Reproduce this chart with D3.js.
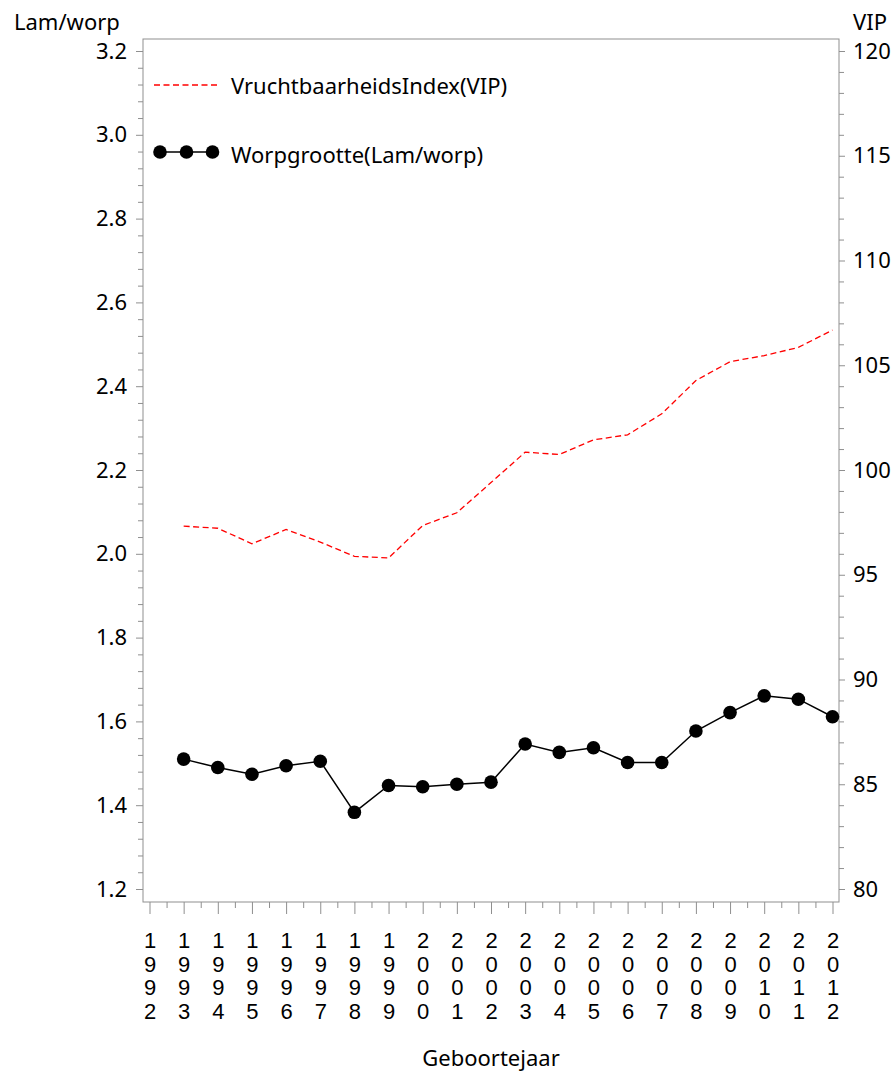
<!DOCTYPE html>
<html>
<head>
<meta charset="utf-8">
<script src="https://cdn.jsdelivr.net/npm/d3@7"></script>
<style>
  body { margin: 0; background: #fff; }
  svg { display: block; font-family: "Noto Sans", sans-serif; }
</style>
</head>
<body>
<div id="chart"></div>
<script>
const years = [1992, 1993, 1994, 1995, 1996, 1997, 1998, 1999, 2000, 2001, 2002,
               2003, 2004, 2005, 2006, 2007, 2008, 2009, 2010, 2011, 2012];

// data starts in 1993
const dataYears = [1993, 1994, 1995, 1996, 1997, 1998, 1999, 2000, 2001, 2002,
                   2003, 2004, 2005, 2006, 2007, 2008, 2009, 2010, 2011, 2012];
const worpgrootte = [1.510, 1.490, 1.474, 1.494, 1.505, 1.383, 1.447, 1.444, 1.450, 1.455,
                     1.546, 1.526, 1.537, 1.502, 1.502, 1.577, 1.621, 1.661, 1.653, 1.611];
const vip = [97.32, 97.22, 96.48, 97.16, 96.56, 95.88, 95.80, 97.35, 97.96, 99.40,
             100.85, 100.74, 101.44, 101.68, 102.68, 104.27, 105.17, 105.46, 105.85, 106.68];

const leftTicks = [1.2, 1.4, 1.6, 1.8, 2.0, 2.2, 2.4, 2.6, 2.8, 3.0, 3.2];
const rightTicks = [80, 85, 90, 95, 100, 105, 110, 115, 120];

const width = 894,
      height = 1073;
const frame = {left: 143, right: 839, top: 39, bottom: 902};
const fontSize = 22;
const axisColor = "#8f8f8f";

const x = d3.scaleLinear().domain([1992, 2012]).range([149.5, 832.5]);
const yL = d3.scaleLinear().domain([1.2, 3.2]).range([889, 51]);
const yR = d3.scaleLinear().domain([80, 120]).range([889, 51]);

const svg = d3.select("#chart").append("svg")
    .attr("width", width)
    .attr("height", height);

// minor tick values
const leftMinor = d3.range(1.2, 3.2001, 0.04).filter(v => !leftTicks.some(t => Math.abs(t - v) < 1e-6));
const rightMinor = d3.range(80, 120.001, 1).filter(v => v % 5 !== 0);
const xMinor = years.slice(0, -1).map(y => y + 0.5);

function styleAxis(g) {
  g.select(".domain").remove();
  g.selectAll(".tick line").attr("stroke", axisColor);
  g.selectAll(".tick text")
    .attr("fill", "#000")
    .style("font-size", fontSize + "px")
    .style("font-family", "'Noto Sans', sans-serif");
}

// left axis
svg.append("g")
    .attr("transform", `translate(${frame.left},0)`)
    .call(d3.axisLeft(yL).tickValues(leftMinor).tickSize(5).tickFormat(""))
    .call(styleAxis);
svg.append("g")
    .attr("transform", `translate(${frame.left},0)`)
    .call(d3.axisLeft(yL).tickValues(leftTicks).tickSize(7).tickPadding(9).tickFormat(d3.format(".1f")))
    .call(styleAxis);

// right axis
svg.append("g")
    .attr("transform", `translate(${frame.right},0)`)
    .call(d3.axisRight(yR).tickValues(rightMinor).tickSize(5).tickFormat(""))
    .call(styleAxis);
svg.append("g")
    .attr("transform", `translate(${frame.right},0)`)
    .call(d3.axisRight(yR).tickValues(rightTicks).tickSize(6).tickPadding(8).tickFormat(d3.format("d")))
    .call(styleAxis);

// bottom axis
svg.append("g")
    .attr("transform", `translate(0,${frame.bottom})`)
    .call(d3.axisBottom(x).tickValues(xMinor).tickSize(6).tickFormat(""))
    .call(styleAxis);
const xAxis = svg.append("g")
    .attr("transform", `translate(0,${frame.bottom})`)
    .call(d3.axisBottom(x).tickValues(years).tickSize(12).tickFormat(""))
    .call(styleAxis);

// vertical year labels, one digit per line
xAxis.selectAll(".tick").append("text")
    .attr("fill", "#000")
    .attr("text-anchor", "middle")
    .style("font-size", fontSize + "px")
    .selectAll("tspan")
    .data(d => String(d).split(""))
    .join("tspan")
      .attr("x", 0)
      .attr("y", (d, i) => 46 + i * 23.5)
      .text(d => d);

// frame
svg.append("rect")
    .attr("x", frame.left)
    .attr("y", frame.top)
    .attr("width", frame.right - frame.left)
    .attr("height", frame.bottom - frame.top)
    .attr("fill", "none")
    .attr("stroke", axisColor)
    .attr("stroke-width", 1);

// axis titles
svg.append("text")
    .attr("x", 14).attr("y", 30)
    .style("font-size", fontSize + "px")
    .text("Lam/worp");
svg.append("text")
    .attr("x", 853).attr("y", 30)
    .style("font-size", fontSize + "px")
    .text("VIP");
svg.append("text")
    .attr("x", (frame.left + frame.right) / 2).attr("y", 1066)
    .attr("text-anchor", "middle")
    .style("font-size", fontSize + "px")
    .text("Geboortejaar");

// VIP line (right axis)
const vipLine = d3.line()
    .x((d, i) => x(dataYears[i]))
    .y(d => yR(d));
svg.append("path")
    .datum(vip)
    .attr("d", vipLine)
    .attr("fill", "none")
    .attr("stroke", "#ff0000")
    .attr("stroke-width", 1.3)
    .attr("stroke-dasharray", "6,3.5");

// Worpgrootte line (left axis)
const worpLine = d3.line()
    .x((d, i) => x(dataYears[i]))
    .y(d => yL(d));
svg.append("path")
    .datum(worpgrootte)
    .attr("d", worpLine)
    .attr("fill", "none")
    .attr("stroke", "#000")
    .attr("stroke-width", 1.5);
svg.append("g")
  .selectAll("circle")
  .data(worpgrootte)
  .join("circle")
    .attr("cx", (d, i) => x(dataYears[i]))
    .attr("cy", d => yL(d))
    .attr("r", 6.8)
    .attr("fill", "#000");

// legend
const legend = svg.append("g");
legend.append("line")
    .attr("x1", 154).attr("x2", 220)
    .attr("y1", 85).attr("y2", 85)
    .attr("stroke", "#ff0000")
    .attr("stroke-width", 1.3)
    .attr("stroke-dasharray", "6,3.5");
legend.append("text")
    .attr("x", 231).attr("y", 86)
    .attr("dy", "0.35em")
    .style("font-size", fontSize + "px")
    .text("VruchtbaarheidsIndex(VIP)");

const markerX = [160, 186.5, 212.5];
legend.append("line")
    .attr("x1", markerX[0]).attr("x2", markerX[2])
    .attr("y1", 152).attr("y2", 152)
    .attr("stroke", "#000")
    .attr("stroke-width", 1.5);
legend.selectAll("circle")
  .data(markerX)
  .join("circle")
    .attr("cx", d => d)
    .attr("cy", 152)
    .attr("r", 6.8)
    .attr("fill", "#000");
legend.append("text")
    .attr("x", 231).attr("y", 155)
    .attr("dy", "0.35em")
    .style("font-size", fontSize + "px")
    .text("Worpgrootte(Lam/worp)");
</script>
</body>
</html>
